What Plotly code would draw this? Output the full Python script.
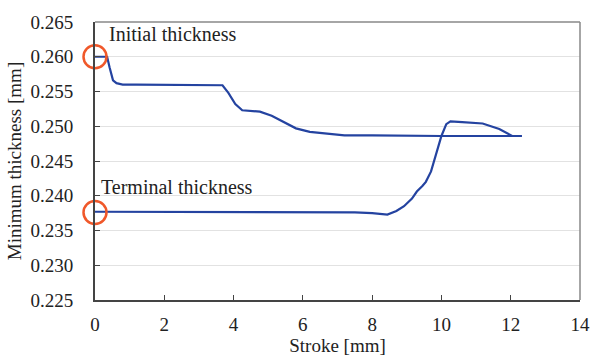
import plotly.graph_objects as go

# Data
init_x = [0.0, 0.35, 0.42, 0.52, 0.62, 0.8, 1.2, 2.0, 2.8, 3.4, 3.68, 3.85, 4.05, 4.25, 4.5, 4.76, 5.1, 5.5, 5.8, 6.2, 6.74, 7.2, 8.0, 9.0, 10.0, 11.0, 12.0, 12.32]
init_y = [0.2600, 0.2600, 0.2585, 0.2566, 0.2562, 0.2560, 0.2560, 0.2560, 0.2560, 0.2560, 0.2559, 0.2548, 0.2532, 0.2523, 0.2522, 0.2521, 0.2515, 0.2505, 0.2497, 0.2492, 0.2489, 0.2487, 0.2487, 0.2486, 0.2486, 0.2486, 0.2486, 0.2486]

term_x = [0.0, 0.3, 0.5, 1.0, 2.0, 4.0, 6.0, 7.5, 8.0, 8.44, 8.7, 8.92, 9.15, 9.29, 9.45, 9.55, 9.7, 9.86, 10.0, 10.14, 10.26, 10.6, 11.19, 11.67, 12.04, 12.32]
term_y = [0.2377, 0.2377, 0.2376, 0.2376, 0.2376, 0.2376, 0.2376, 0.2376, 0.2375, 0.2373, 0.2378, 0.2385, 0.2396, 0.2406, 0.2414, 0.2420, 0.2435, 0.2461, 0.2486, 0.2503, 0.2507, 0.2506, 0.2504, 0.2496, 0.2486, 0.2486]

circle_x = [0.0, 0.0]
circle_y = [0.2600, 0.2376]

x_ticks = [0, 2, 4, 6, 8, 10, 12, 14]
y_ticks = [0.225, 0.230, 0.235, 0.240, 0.245, 0.250, 0.255, 0.260, 0.265]

line_color = "#2443a0"
serif = "Liberation Serif"
txt = "#222"

fig = go.Figure()
fig.add_trace(go.Scatter(x=init_x, y=init_y, mode="lines",
                         line=dict(color=line_color, width=2.2), showlegend=False))
fig.add_trace(go.Scatter(x=term_x, y=term_y, mode="lines",
                         line=dict(color=line_color, width=2.2), showlegend=False))
fig.add_trace(go.Scatter(x=circle_x, y=circle_y, mode="markers", cliponaxis=False,
                         marker=dict(symbol="circle-open", size=23,
                                     line=dict(color="#f0582a", width=2.5),
                                     color="#f0582a"),
                         showlegend=False))

fig.add_annotation(x=0.35, y=0.2633, text="Initial thickness", showarrow=False,
                   xanchor="left", yanchor="middle",
                   font=dict(family=serif, size=20, color=txt))
fig.add_annotation(x=0.12, y=0.2413, text="Terminal thickness", showarrow=False,
                   xanchor="left", yanchor="middle",
                   font=dict(family=serif, size=20, color=txt))

fig.update_layout(
    width=602, height=360,
    margin=dict(l=95, r=12, t=14, b=58),
    paper_bgcolor="white", plot_bgcolor="white",
    font=dict(family=serif, size=19, color=txt),
    xaxis=dict(range=[0, 14], tickvals=x_ticks, ticks="inside", ticklen=5,
               tickcolor="#444", showgrid=False, zeroline=False,
               showline=True, linecolor="#444", linewidth=2,
               tickfont=dict(family=serif, size=19, color=txt),
               title=dict(text="Stroke [mm]", standoff=0,
                          font=dict(family=serif, size=19, color=txt)),
               ticklabelstandoff=6),
    yaxis=dict(range=[0.225, 0.265], tickvals=y_ticks, tickformat=".3f",
               ticks="inside", ticklen=5, tickcolor="#444",
               showgrid=True, gridcolor="#e2e2e2", gridwidth=1, zeroline=False,
               showline=True, linecolor="#444", linewidth=2,
               tickfont=dict(family=serif, size=19, color=txt),
               title=dict(text="Minimum thickness [mm]", standoff=4,
                          font=dict(family=serif, size=19, color=txt)),
               ticklabelstandoff=16),
    shapes=[
        dict(type="line", xref="paper", yref="paper", x0=0, x1=1, y0=1, y1=1,
             line=dict(color="#888", width=1.5)),
        dict(type="line", xref="paper", yref="paper", x0=1, x1=1, y0=0, y1=1,
             line=dict(color="#888", width=1.5)),
    ],
)

fig.write_html("out.html")
